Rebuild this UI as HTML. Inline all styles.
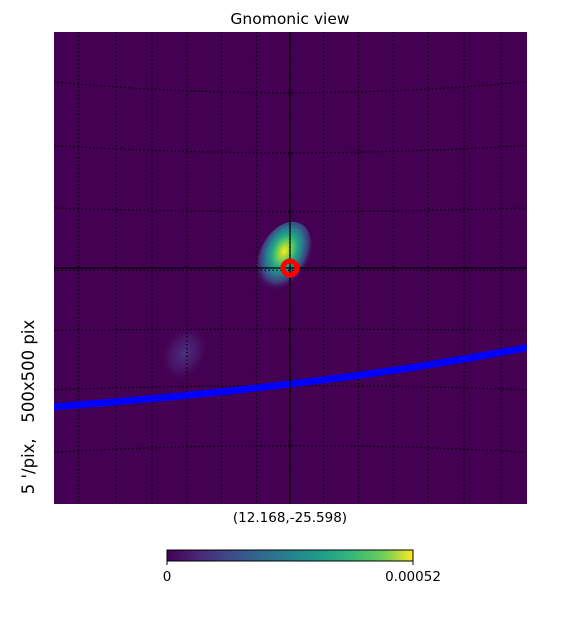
<!DOCTYPE html>
<html><head><meta charset="utf-8"><style>
body{margin:0;background:#fff;width:580px;height:640px;overflow:hidden;font-family:"DejaVu Sans","Liberation Sans",sans-serif}
</style></head><body>
<svg id="s" width="580" height="640" xmlns="http://www.w3.org/2000/svg">
<defs>
<radialGradient id="blob" cx="45%" cy="42%" r="55%">
<stop offset="0" stop-color="#fde725"/>
<stop offset="0.12" stop-color="#b5de2b"/>
<stop offset="0.27" stop-color="#5ec962"/>
<stop offset="0.42" stop-color="#21a685"/>
<stop offset="0.6" stop-color="#2a788e"/>
<stop offset="0.78" stop-color="#3b528b" stop-opacity="0.75"/>
<stop offset="1" stop-color="#440154" stop-opacity="0"/>
</radialGradient>
<radialGradient id="faint" cx="50%" cy="50%" r="50%">
<stop offset="0" stop-color="#4d3283"/>
<stop offset="0.6" stop-color="#48186a" stop-opacity="0.8"/>
<stop offset="1" stop-color="#440154" stop-opacity="0"/>
</radialGradient>
<linearGradient id="vir" x1="0" x2="1">
<stop offset="0" stop-color="#440154"/><stop offset="0.13" stop-color="#482878"/>
<stop offset="0.25" stop-color="#3e4989"/><stop offset="0.38" stop-color="#31688e"/>
<stop offset="0.5" stop-color="#26828e"/><stop offset="0.63" stop-color="#1f9e89"/>
<stop offset="0.75" stop-color="#35b779"/><stop offset="0.88" stop-color="#6ece58"/>
<stop offset="1" stop-color="#fde725"/>
</linearGradient>
<clipPath id="clip"><rect x="54" y="32" width="473" height="472"/></clipPath>
</defs>
<text x="290" y="24" text-anchor="middle" font-size="15.5">Gnomonic view</text>
<rect x="54" y="32" width="473" height="472" fill="#440154"/>
<g id="marks" clip-path="url(#clip)"></g>
<text x="290" y="522" text-anchor="middle" font-size="13.5">(12.168,-25.598)</text>
<text transform="translate(34,407) rotate(-90)" text-anchor="middle" font-size="16.5" xml:space="preserve">5 '/pix,   500x500 pix</text>
<rect x="167" y="550" width="246" height="11" fill="url(#vir)" stroke="#000" stroke-width="1"/>
<line x1="167" y1="561" x2="167" y2="565" stroke="#000"/>
<line x1="413" y1="561" x2="413" y2="565" stroke="#000"/>
<text x="167" y="581" text-anchor="middle" font-size="13.5">0</text>
<text x="413" y="581" text-anchor="middle" font-size="13.5">0.00052</text>
</svg>
<script>
// Map coordinates: projected offsets in degrees from center (x right, y up), 5'/pix
const trackX = [-20, -15, -10, -5, 0, 5, 10, 15, 20];
const trackY = [-11.6, -11.2, -10.75, -10.25, -9.67, -9.05, -8.33, -7.5, -6.6];
const blobX = [-0.5, -8.8];
const blobY = [0.85, -7.1];
const blobPeak = [1.0, 0.15];
const gridLonX = [-17.6, -14.5, -11.5, -8.6, -5.7, -2.8, 0, 2.8, 5.7, 8.6, 11.5, 14.5, 17.6];
const gridLatY = [14.6, 9.6, 4.7, -0.2, -5.1, -9.8, -14.8];
const gridLatBend = [-0.9, -0.6, -0.3, 0, 0.1, 0.35, 0.55];

const cx = 290, cy = 268, ppd = 12; // pixels per degree
const xs = v => cx + v * ppd;
const ys = v => cy - v * ppd;
const NS = "http://www.w3.org/2000/svg";
const g = document.getElementById('marks');
function mk(tag, attrs){const e=document.createElementNS(NS,tag);for(const k in attrs)e.setAttribute(k,attrs[k]);g.appendChild(e);return e;}

// blobs
blobX.forEach((bx,i)=>{
  const big = blobPeak[i] > 0.5;
  const e = mk('ellipse',{cx:xs(bx),cy:ys(blobY[i]),rx:big?25:22,ry:big?38:30,
    fill:big?'url(#blob)':'url(#faint)',opacity:big?1:0.95,
    transform:`rotate(${big?25:30} ${xs(bx)} ${ys(blobY[i])})`});
  
  
});

// grid meridians
gridLonX.forEach(v=>{
  const l = mk('line',{x1:xs(v),y1:32,x2:xs(v),y2:504,stroke:'#000','stroke-width':1.3,'stroke-dasharray':'1.3 2.6'});
  
  
});
// grid parallels
gridLatY.forEach((v,i)=>{
  let d='';
  for(let x=54;x<=527;x+=8){const dx=(x-cx)/236;const y=ys(v)+gridLatBend[i]*ppd*dx*dx;d+=(d?'L':'M')+x+','+y.toFixed(1);}
  const p = mk('path',{d:d,fill:'none',stroke:'#000','stroke-width':1.3,'stroke-dasharray':'1.3 2.6'});
  
  
});

// track
let td='';
trackX.forEach((v,i)=>{td+=(i?'L':'M')+xs(v)+','+ys(trackY[i]);});
const tr = mk('path',{d:td,fill:'none',stroke:'#0000ff','stroke-width':7,'stroke-linecap':'round','stroke-linejoin':'round'});



// crosshair
const h = mk('line',{x1:54,y1:cy,x2:527,y2:cy,stroke:'#000','stroke-width':1.2});


const vv = mk('line',{x1:cx,y1:32,x2:cx,y2:504,stroke:'#000','stroke-width':1.2});


// marker
const c = mk('circle',{cx:cx,cy:cy,r:7,fill:'none',stroke:'#ff0000','stroke-width':5});


</script>
</body></html>
